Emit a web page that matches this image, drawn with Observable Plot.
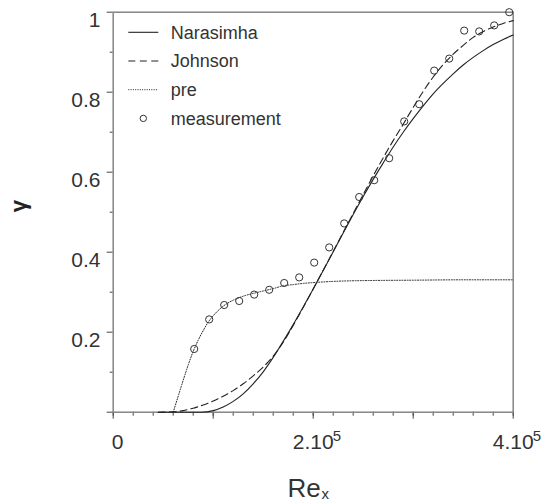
<!DOCTYPE html>
<html>
<head>
<meta charset="utf-8">
<script src="https://cdn.jsdelivr.net/npm/d3@7"></script>
<script src="https://cdn.jsdelivr.net/npm/@observablehq/plot@0.6"></script>
<style>
  body { margin: 0; background: #fff; }
  #chart svg { display: block; }
</style>
</head>
<body>
<div id="chart"></div>
<script>
// ---- data (Re in units of 1e5) ----
const measRe    = [0.81, 0.96, 1.11, 1.26, 1.41, 1.56, 1.71, 1.86, 2.01, 2.16, 2.31, 2.46, 2.61, 2.76, 2.91, 3.06, 3.21, 3.36, 3.51, 3.66, 3.81, 3.96];
const measGamma = [0.158, 0.232, 0.268, 0.278, 0.294, 0.306, 0.323, 0.337, 0.374, 0.412, 0.472, 0.538, 0.580, 0.635, 0.727, 0.770, 0.854, 0.884, 0.954, 0.952, 0.967, 1.000];

const narRe    = [0.45, 0.88, 1.0, 1.1, 1.2, 1.3, 1.4, 1.5, 1.6, 1.7, 1.8, 1.9, 2.0, 2.1, 2.2, 2.3, 2.4, 2.5, 2.6, 2.7, 2.8, 2.9, 3.0, 3.1, 3.2, 3.3, 3.4, 3.5, 3.6, 3.7, 3.8, 3.9, 4.0];
const narGamma = [0, 0, 0.004, 0.013, 0.027, 0.046, 0.071, 0.101, 0.137, 0.177, 0.219, 0.263, 0.308, 0.354, 0.401, 0.448, 0.494, 0.539, 0.582, 0.623, 0.663, 0.700, 0.734, 0.766, 0.796, 0.822, 0.846, 0.868, 0.887, 0.904, 0.919, 0.932, 0.943];

const johRe    = [0.45, 0.6, 0.7, 0.8, 0.9, 1.0, 1.1, 1.2, 1.3, 1.4, 1.5, 1.6, 1.7, 1.8, 1.9, 2.0, 2.1, 2.2, 2.3, 2.4, 2.5, 2.6, 2.7, 2.8, 2.9, 3.0, 3.1, 3.2, 3.3, 3.4, 3.5, 3.6, 3.7, 3.8, 3.9, 4.0];
const johGamma = [0, 0.001, 0.004, 0.010, 0.018, 0.028, 0.040, 0.054, 0.071, 0.091, 0.113, 0.140, 0.175, 0.217, 0.262, 0.308, 0.355, 0.402, 0.450, 0.497, 0.544, 0.591, 0.636, 0.679, 0.720, 0.762, 0.802, 0.838, 0.869, 0.895, 0.917, 0.937, 0.952, 0.963, 0.972, 0.979];

const preRe    = [0.60, 0.65, 0.70, 0.75, 0.80, 0.85, 0.90, 0.95, 1.0, 1.1, 1.2, 1.3, 1.4, 1.5, 1.6, 1.7, 1.8, 1.9, 2.0, 2.2, 2.5, 3.0, 3.5, 4.0];
const preGamma = [0, 0.040, 0.080, 0.118, 0.152, 0.180, 0.204, 0.225, 0.241, 0.265, 0.280, 0.290, 0.297, 0.303, 0.309, 0.316, 0.319, 0.322, 0.324, 0.327, 0.329, 0.330, 0.331, 0.331];

const xTickValues = [0, 2, 4];
const xTickLabels = ["0", "2.10", "4.10"];
const xTickExps   = ["", "5", "5"];
const yTickValues = [0.2, 0.4, 0.6, 0.8, 1];
const yTickLabels = ["0.2", "0.4", "0.6", "0.8", "1"];
const legendLabels = ["Narasimha", "Johnson", "pre", "measurement"];
const legendKinds  = ["solid", "dashed", "dotted", "circle"];

// ---- build tables ----
const zip = (xs, ys) => xs.map((x, i) => ({x, y: ys[i]}));
const meas = zip(measRe, measGamma);
const nar = zip(narRe, narGamma);
const joh = zip(johRe, johGamma);
const pre = zip(preRe, preGamma);
const xt = xTickValues.map((v, i) => ({v, label: xTickLabels[i], exp: xTickExps[i]}));
const yt = yTickValues.map((v, i) => ({v, label: yTickLabels[i]}));

const FONT = "'Liberation Sans', Arial, Helvetica, sans-serif";
const TXT = "#333";
const INK = "#222";

const plot = Plot.plot({
  width: 554,
  height: 504,
  marginLeft: 112.7,
  marginRight: 41.3,
  marginTop: 11.7,
  marginBottom: 92.3,
  x: {domain: [0, 4], axis: null},
  y: {domain: [0, 1], axis: null},
  style: {fontFamily: FONT, background: "#fff", overflow: "visible"},
  marks: [
    // minor & major ticks
    Plot.axisX({ticks: d3.range(0, 4.001, 0.2), tickSize: 4, tickFormat: () => "", stroke: "#444", anchor: "bottom"}),
    Plot.axisX({ticks: d3.range(0, 4.001, 1), tickSize: 7, tickFormat: () => "", stroke: "#444", anchor: "bottom"}),
    Plot.axisY({ticks: d3.range(0.1, 1, 0.2), tickSize: 3, tickFormat: () => "", stroke: "#444", anchor: "left"}),
    Plot.axisY({ticks: d3.range(0, 1.001, 0.2), tickSize: 6, tickFormat: () => "", stroke: "#444", anchor: "left"}),
    Plot.frame({stroke: "#858585", strokeWidth: 1.5}),
    // x tick labels
    Plot.text(xt, {filter: d => d.exp === "", x: "v", y: 0, text: "label", dx: 4.3, dy: 36.6, lineAnchor: "bottom", fontSize: 21, fill: TXT}),
    Plot.text(xt, {filter: d => d.exp !== "", x: "v", y: 0, text: "label", dx: 0, dy: 36.6, lineAnchor: "bottom", fontSize: 21, fill: TXT}),
    Plot.text(xt, {filter: d => d.exp !== "", x: "v", y: 0, text: "exp", dx: 19.5, dy: 28.3, lineAnchor: "bottom", textAnchor: "start", fontSize: 15, fill: TXT}),
    // y tick labels
    Plot.text(yt, {x: 0, y: "v", text: "label", dx: -12.7, dy: 0, lineAnchor: "top", textAnchor: "end", fontSize: 21, fill: TXT}),
    // axis titles
    Plot.text(["Re"], {frameAnchor: "bottom", text: d => d, dx: 7.5, dy: 85, lineAnchor: "bottom", textAnchor: "end", fontSize: 26, fill: TXT}),
    Plot.text(["x"], {frameAnchor: "bottom", text: d => d, dx: 8.3, dy: 87, lineAnchor: "bottom", textAnchor: "start", fontSize: 15, fill: TXT}),
    Plot.text(["γ"], {frameAnchor: "left", text: d => d, dx: -94.5, rotate: -90, fontSize: 22, fontWeight: "bold", fill: "#222"}),
    // curves
    Plot.line(pre, {x: "x", y: "y", curve: "monotone-x", stroke: INK, strokeWidth: 1, strokeDasharray: "1,1.6"}),
    Plot.line(joh, {x: "x", y: "y", curve: "monotone-x", stroke: INK, strokeWidth: 1.1, strokeDasharray: "7,4"}),
    Plot.line(nar, {x: "x", y: "y", curve: "monotone-x", stroke: INK, strokeWidth: 1.1}),
    Plot.dot(meas, {x: "x", y: "y", r: 3.6, stroke: "#333", strokeWidth: 1, fill: "none"})
  ]
});

// ---- legend (inside the frame, top-left) ----
const svg = d3.select(plot);
const lg = svg.append("g")
  .attr("font-family", FONT).attr("font-size", 18).attr("fill", TXT)
  .attr("text-anchor", "start");
legendLabels.forEach((label, i) => {
  const y = 32.3 + i * 28.7;
  const kind = legendKinds[i];
  if (kind === "circle") {
    lg.append("circle").attr("cx", 143.3).attr("cy", y).attr("r", 3.2)
      .attr("fill", "none").attr("stroke", "#333").attr("stroke-width", 1);
  } else {
    const ln = lg.append("line").attr("x1", 128.3).attr("x2", 158.3).attr("y1", y).attr("y2", y)
      .attr("stroke", INK).attr("stroke-width", 1.1);
    if (kind === "dashed") ln.attr("stroke-dasharray", "7,4.5");
    if (kind === "dotted") ln.attr("stroke-dasharray", "1,1.3").attr("stroke-width", 1);
  }
  lg.append("text").attr("x", 170.7).attr("y", y).attr("dy", "0.35em")
    .attr("text-anchor", "start").text(label);
});

document.getElementById("chart").append(plot);
</script>
</body>
</html>
